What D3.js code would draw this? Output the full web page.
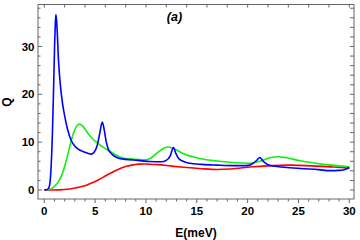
<!DOCTYPE html>
<html>
<head>
<meta charset="utf-8">
<script src="https://cdn.jsdelivr.net/npm/d3@7"></script>
<style>
  body { margin: 0; background: #fff; }
  svg { display: block; font-family: "Liberation Sans", Arial, sans-serif; }
</style>
</head>
<body>
<div id="chart"></div>
<script>
// data (E in meV, Q)
const blueE = [0, 0.3, 0.5, 0.65, 0.8, 0.9, 1.0, 1.1, 1.15, 1.25, 1.4, 1.6, 1.8, 2.0, 2.3, 2.66, 3.0, 3.3, 4.0, 4.6, 4.9, 5.2, 5.45, 5.7, 5.9, 6.1, 6.3, 6.7, 7.25, 8, 9.2, 10.4, 11.5, 12.0, 12.4, 12.7, 12.95, 13.3, 14.3, 15.5, 17, 18.5, 19.8, 20.4, 20.9, 21.2, 21.5, 21.9, 22.5, 25.2, 27, 28.1, 29, 29.5, 30];
const blueQ = [0, 0.1, 0.8, 4, 12, 20, 29, 35.5, 36.7, 34, 27, 21.5, 18, 15.5, 12.6, 10.3, 9.2, 8.6, 7.9, 7.5, 7.9, 9.3, 11.8, 14.2, 12.5, 10, 8.5, 7.4, 6.7, 6.4, 6.2, 5.95, 5.9, 6.2, 7.2, 8.9, 7.6, 6.4, 5.6, 5.35, 5.2, 5.1, 5.1, 5.4, 6.2, 6.8, 6.1, 5.4, 5.0, 4.5, 4.25, 4.05, 4.1, 4.25, 4.7];

const greenE = [0.2, 0.5, 0.8, 1.1, 1.35, 1.7, 2.0, 2.3, 2.66, 3.0, 3.3, 3.5, 3.8, 4.3, 4.8, 5.3, 6.27, 7.0, 7.6, 8.5, 9.9, 10.4, 11.2, 11.8, 12.2, 12.7, 13.7, 15.3, 17, 18.5, 20.2, 21.0, 21.6, 22.3, 23.0, 23.7, 25.2, 27.5, 30];
const greenQ = [0, 0.1, 0.4, 1.0, 1.6, 3.0, 4.9, 7.3, 10.4, 12.6, 13.6, 13.8, 13.3, 11.8, 10.6, 9.7, 8.3, 7.4, 6.8, 6.5, 6.3, 6.6, 7.9, 8.8, 9.0, 8.7, 7.6, 6.6, 6.05, 5.75, 5.6, 5.9, 6.3, 6.8, 6.95, 6.8, 6.1, 5.35, 4.85];

const redE = [0, 1.5, 2.5, 3.3, 4.0, 4.6, 5.3, 5.9, 6.6, 7.25, 8.0, 8.6, 9.3, 9.9, 11.2, 12.5, 13.7, 15.5, 17, 18.3, 19.3, 20.5, 21.9, 24.2, 26.8, 28.5, 30];
const redQ = [0, 0.02, 0.2, 0.55, 0.9, 1.4, 2.1, 2.8, 3.6, 4.3, 4.9, 5.2, 5.4, 5.45, 5.3, 5.0, 4.75, 4.45, 4.3, 4.4, 4.6, 4.85, 5.05, 5.2, 5.0, 4.8, 4.55];

const xTicks = [0, 5, 10, 15, 20, 25, 30];
const yTicks = [0, 10, 20, 30];

const width = 360, height = 240;
// frame box
const fLeft = 38, fRight = 354, fTop = 4.5, fBottom = 199;

const x = d3.scaleLinear().domain([0, 30]).range([44.3, 349.3]);
const y = d3.scaleLinear().domain([0, 30]).range([190, 46.5]);

const svg = d3.select("#chart").append("svg")
  .attr("width", width)
  .attr("height", height);

svg.append("clipPath").attr("id", "clip")
  .append("rect")
  .attr("x", fLeft).attr("y", fTop)
  .attr("width", fRight - fLeft).attr("height", fBottom - fTop);

const frameColor = "#666";

// minor / major ticks
const bottomMinor = d3.range(0, 31, 1);
const topMinor = d3.range(0, 31, 2);
const sideMinor = d3.range(0, 39, 2);

const ticks = svg.append("g").attr("stroke", frameColor).attr("stroke-width", 1);

ticks.selectAll(".bt").data(bottomMinor).enter().append("line")
  .attr("x1", d => x(d)).attr("x2", d => x(d))
  .attr("y1", fBottom).attr("y2", d => fBottom + (d % 5 === 0 ? 4 : 2.5));

ticks.selectAll(".tt").data(topMinor).enter().append("line")
  .attr("x1", d => x(d)).attr("x2", d => x(d))
  .attr("y1", fTop).attr("y2", fTop + 3);

ticks.selectAll(".lt").data(sideMinor).enter().append("line")
  .attr("y1", d => y(d)).attr("y2", d => y(d))
  .attr("x1", fLeft).attr("x2", d => fLeft + (d % 10 === 0 ? 4 : 2.5));

ticks.selectAll(".rt").data(sideMinor).enter().append("line")
  .attr("y1", d => y(d)).attr("y2", d => y(d))
  .attr("x1", fRight).attr("x2", fRight - 4);

// frame
svg.append("rect")
  .attr("x", fLeft).attr("y", fTop)
  .attr("width", fRight - fLeft).attr("height", fBottom - fTop)
  .attr("fill", "none")
  .attr("stroke", frameColor)
  .attr("stroke-width", 1);

// tick labels
svg.selectAll(".xl").data(xTicks).enter().append("text")
  .attr("x", d => x(d)).attr("y", 215)
  .attr("text-anchor", "middle")
  .attr("font-size", "11.5px").attr("font-weight", "bold")
  .attr("fill", "#000")
  .text(d => d);

svg.selectAll(".yl").data(yTicks).enter().append("text")
  .attr("x", 34.5).attr("y", d => y(d) + 4)
  .attr("text-anchor", "end")
  .attr("font-size", "11.5px").attr("font-weight", "bold")
  .attr("fill", "#000")
  .text(d => d);

// axis titles
svg.append("text")
  .attr("x", 196).attr("y", 236.5)
  .attr("text-anchor", "middle")
  .attr("font-size", "12px").attr("font-weight", "bold")
  .attr("fill", "#000")
  .text("E(meV)");

svg.append("text")
  .attr("transform", "translate(11,102) rotate(-90)")
  .attr("text-anchor", "middle")
  .attr("font-size", "12px").attr("font-weight", "bold")
  .attr("fill", "#000")
  .text("Q");

svg.append("text")
  .attr("x", 174.5).attr("y", 21)
  .attr("text-anchor", "middle")
  .attr("font-size", "12.5px").attr("font-weight", "bold").attr("font-style", "italic")
  .attr("fill", "#000")
  .text("(a)");

// curves
const line = d3.line()
  .x(d => x(d[0]))
  .y(d => y(d[1]))
  .curve(d3.curveMonotoneX);

const series = [
  { E: redE, Q: redQ, color: "#ff0000" },
  { E: greenE, Q: greenQ, color: "#11ee11" },
  { E: blueE, Q: blueQ, color: "#0000ff" }
];

svg.append("g").attr("clip-path", "url(#clip)")
  .selectAll("path").data(series).enter().append("path")
  .attr("d", s => line(s.E.map((e, i) => [e, s.Q[i]])))
  .attr("fill", "none")
  .attr("stroke", s => s.color)
  .attr("stroke-width", 1.6)
  .attr("stroke-linejoin", "round");
</script>
</body>
</html>
